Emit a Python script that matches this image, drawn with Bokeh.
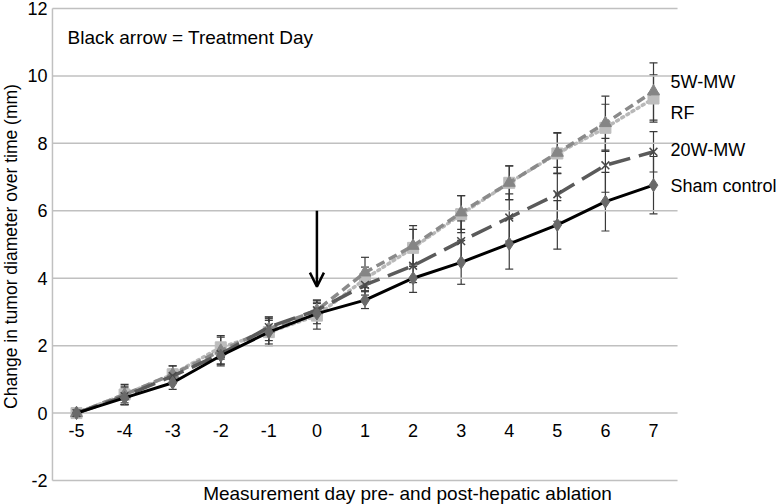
import math
from bokeh.plotting import figure
from bokeh.models import (ColumnDataSource, Whisker, TeeHead, Arrow, OpenHead, Label, Range1d)
from bokeh.core.properties import value
from bokeh.embed import file_html
from bokeh.resources import INLINE

# ---- data ----
days = [-5, -4, -3, -2, -1, 0, 1, 2, 3, 4, 5, 6, 7]
day_labels = ["-5", "-4", "-3", "-2", "-1", "0", "1", "2", "3", "4", "5", "6", "7"]

sham = [0, 0.45, 0.9, 1.7, 2.4, 2.95, 3.35, 4.0, 4.47, 5.02, 5.58, 6.27, 6.76]
sham_err = [0, 0.2, 0.2, 0.3, 0.35, 0.3, 0.25, 0.42, 0.65, 0.75, 0.72, 0.87, 0.85]
w20 = [0, 0.5, 1.1, 1.75, 2.55, 3.05, 3.8, 4.37, 5.1, 5.8, 6.49, 7.35, 7.75]
w20_err = [0, 0.25, 0.2, 0.3, 0.3, 0.3, 0.3, 0.5, 0.6, 0.7, 0.8, 0.8, 0.6]
w5 = [0, 0.55, 1.15, 1.85, 2.5, 3.05, 4.17, 4.96, 5.95, 6.83, 7.72, 8.6, 9.54]
w5_err = [0, 0.3, 0.25, 0.4, 0.35, 0.3, 0.45, 0.6, 0.5, 0.5, 0.6, 0.8, 0.85]
rf = [0, 0.55, 1.15, 1.95, 2.4, 2.89, 3.98, 4.9, 5.9, 6.83, 7.7, 8.46, 9.33]
rf_err = [0, 0.25, 0.25, 0.35, 0.4, 0.4, 0.35, 0.55, 0.55, 0.5, 0.6, 0.7, 0.7]

series_names = ["5W-MW", "RF", "20W-MW", "Sham control"]
label_y = [9.83, 8.9, 7.8, 6.74]
y_ticks = [-2, 0, 2, 4, 6, 8, 10, 12]
y_tick_labels = ["-2", "0", "2", "4", "6", "8", "10", "12"]

treatment_day = 0
arrow_top = 6.0
arrow_bottom = 3.75
note_text = "Black arrow = Treatment Day"
x_title = "Measurement day pre- and post-hepatic ablation"
y_title = "Change in tumor diameter over time (mm)"

# ---- layout (canvas fills the 780x504 window) ----
FONT = "Liberation Sans"
W, H = 780, 504
x_lo, x_hi = -5.5, 7.5          # plotting area (gridline extent)
y_lo, y_hi = -2, 12
XPX = 577 / 12                  # px per day
YPX = 472 / 14                  # px per mm
XR = (-5 - 76 / XPX, -5 - 76 / XPX + W / XPX)
YR = (12 - (H - 8) / YPX, 12 + 8 / YPX)

p = figure(width=W, height=H, output_backend="svg", toolbar_location=None,
           x_range=Range1d(*XR), y_range=Range1d(*YR),
           x_axis_location=None, y_axis_location=None,
           min_border_left=0, min_border_right=0, min_border_top=0, min_border_bottom=0)
p.outline_line_color = None
p.background_fill_color = "white"
p.border_fill_color = "white"
p.xgrid.visible = False
p.ygrid.visible = False

# gridlines and left axis line
p.segment(x0=[x_lo] * len(y_ticks), x1=[x_hi] * len(y_ticks), y0=y_ticks, y1=y_ticks,
          line_color="#c0c0c0", line_width=1.5)
p.segment(x0=[x_lo], x1=[x_lo], y0=[y_lo], y1=[y_hi], line_color="#c0c0c0", line_width=1.5)

# y tick labels
p.text(x=[x_lo] * len(y_ticks), y=y_ticks, text=y_tick_labels, text_font=value(FONT),
       text_font_size="18px", text_align="right", text_baseline="middle",
       x_offset=-5, text_color="black")
# x tick labels drawn just below y = 0
p.text(x=days, y=[0] * len(days), text=day_labels, text_font=value(FONT),
       text_font_size="18px", text_align="center", text_baseline="middle",
       y_offset=17, text_color="black")

# axis titles
p.add_layout(Label(x=XR[0] + 10 / XPX, y=YR[1] - 246 / YPX, text=y_title, angle=math.pi / 2,
                   text_font=FONT, text_font_size="17.5px", text_align="center",
                   text_baseline="middle", text_color="black"))
p.add_layout(Label(x=XR[0] + 407 / XPX, y=YR[1] - 493 / YPX, text=x_title,
                   text_font=FONT, text_font_size="19px", text_align="center",
                   text_baseline="middle", text_color="black"))

def add_errors(vals, errs):
    src = ColumnDataSource(dict(x=days, lo=[v - e for v, e in zip(vals, errs)],
                                hi=[v + e for v, e in zip(vals, errs)]))
    w = Whisker(source=src, base="x", lower="lo", upper="hi", dimension="height",
                line_color="#3a3a3a", line_width=1.2,
                upper_head=TeeHead(size=8, line_color="#3a3a3a", line_width=1.2),
                lower_head=TeeHead(size=8, line_color="#3a3a3a", line_width=1.2))
    p.add_layout(w)

for v, e in [(sham, sham_err), (w20, w20_err), (w5, w5_err), (rf, rf_err)]:
    add_errors(v, e)

# RF: light gray dotted, squares
p.line(days, rf, line_color="#b8b8b8", line_width=3.5, line_dash="2 4", line_cap="round")
p.scatter(days, rf, marker="square", size=11, fill_color="#bdbdbd", line_color="#bdbdbd")
# 5W-MW: medium gray dashed, triangles
p.line(days, w5, line_color="#8a8a8a", line_width=3.5, line_dash="9 5")
p.scatter(days, w5, marker="triangle", size=12, fill_color="#858585", line_color="#858585")
# 20W-MW: dark gray long dash, x markers
p.line(days, w20, line_color="#5a5a5a", line_width=3.5, line_dash="22 9")
p.scatter(days, w20, marker="x", size=11, line_color="#4a4a4a", line_width=1.5)
# Sham control: black solid, diamonds
p.line(days, sham, line_color="black", line_width=3)
p.scatter(days, sham, marker="diamond", size=13, fill_color="#6a6a6a", line_color="#6a6a6a")

# treatment arrow
p.add_layout(Arrow(x_start=treatment_day, y_start=arrow_top, x_end=treatment_day, y_end=arrow_bottom,
                   line_color="black", line_width=2.5,
                   end=OpenHead(size=14, line_color="black", line_width=2.5)))

p.add_layout(Label(x=XR[0] + 67 / XPX, y=YR[1] - 37 / YPX, text=note_text, text_font=FONT,
                   text_font_size="19px", text_baseline="middle", text_color="black"))

for name, ly in zip(series_names, label_y):
    p.add_layout(Label(x=7 + 17 / XPX, y=ly, text=name, text_font=FONT, text_font_size="18px",
                       text_baseline="middle", text_color="black"))

open("out.html", "w").write(file_html(p, INLINE))
